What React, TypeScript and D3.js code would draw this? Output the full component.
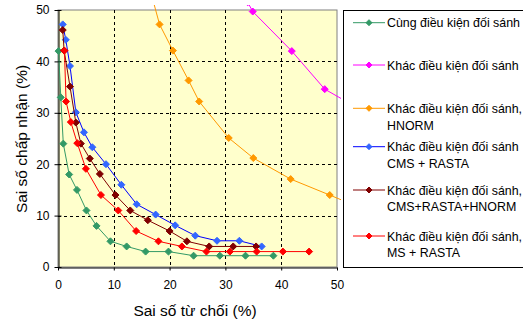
import React, { useRef, useEffect } from "react";
import * as d3 from "d3";

type Pt = [number, number];

const xTicks = [0, 10, 20, 30, 40, 50];
const yTicks = [0, 10, 20, 30, 40, 50];

const sameCond: Pt[] = [
    [0.1, 42], [0.5, 33], [0.95, 24], [2, 18], [3.4, 15], [5.1, 11], [6.9, 8],
    [9.4, 5], [12.3, 4], [15.7, 3], [19.8, 3], [24.3, 2.2], [29, 2.2], [33.6, 2.2], [38.6, 2.2],
];
const diffCond: Pt[] = [[34, 51.5], [34.9, 49.7], [41.9, 42], [47.8, 34.6], [52, 32]];
const diffHnorm: Pt[] = [
    [17, 52], [18.2, 47.2], [20.6, 42.1], [23.4, 36.3], [25.3, 32.2], [30.6, 25.1],
    [35, 21.2], [41.7, 17.1], [48.7, 14], [52, 12.5],
];
const diffCmsRasta: Pt[] = [
    [0.85, 47.2], [1.4, 44.2], [2.15, 39.1], [3.2, 30.1], [4.65, 26.2], [6.15, 23.3],
    [8.6, 20], [11.35, 16], [14.1, 12.2], [17.5, 10.2], [21, 8.1], [24.6, 6.1],
    [28.5, 5.1], [32.5, 5.1], [36.5, 4],
];
const diffCmsRastaHnorm: Pt[] = [
    [0.85, 46.1], [1.1, 42.1], [2.15, 35.1], [3.2, 28.1], [4.1, 24], [5.7, 21.1],
    [7.5, 18.1], [10.3, 14], [12.95, 11], [16.1, 9.1], [20, 7], [23.1, 5],
    [27.1, 4], [31.4, 4], [35.5, 4],
];
const diffMsRasta: Pt[] = [
    [1.15, 42.1], [1.45, 32.2], [2.3, 28.2], [3.45, 24.1], [5, 19.1], [7.7, 14],
    [10.8, 11], [14, 7], [18, 5], [22.2, 4], [26.6, 3], [30.8, 3], [35.6, 3],
    [40.3, 3], [45, 3],
];

const series = [
    { name: ["Cùng điều kiện đối sánh"], color: "#339966", marker: "#339966", data: sameCond },
    { name: ["Khác điều kiện đối sánh"], color: "#FF00FF", marker: "#FF00FF", data: diffCond },
    { name: ["Khác điều kiện đối sánh,", "HNORM"], color: "#FF9900", marker: "#FF9900", data: diffHnorm },
    { name: ["Khác điều kiện đối sánh", "CMS + RASTA"], color: "#0000FF", marker: "#3366FF", data: diffCmsRasta },
    { name: ["Khác điều kiện đối sánh,", "CMS+RASTA+HNORM"], color: "#800000", marker: "#800000", data: diffCmsRastaHnorm },
    { name: ["Khác điều kiện đối sánh,", "MS + RASTA"], color: "#FF0000", marker: "#FF0000", data: diffMsRasta },
];

const diamond = (cx: number, cy: number, r: number) =>
    `M${cx},${cy - r}L${cx + r},${cy}L${cx},${cy + r}L${cx - r},${cy}Z`;

const Chart = () => {
    const ref = useRef<SVGSVGElement | null>(null);

    useEffect(() => {
        const left = 58, right = 337, top = 10, bottom = 267;
        const font = "Arial, 'Liberation Sans', sans-serif";

        const svg = d3.select(ref.current);
        svg.selectAll("*").remove();

        const x = d3.scaleLinear().domain([0, 50]).range([left, right]);
        const y = d3.scaleLinear().domain([0, 50]).range([bottom, top]);

        // plot background
        svg.append("rect")
            .attr("x", left).attr("y", top)
            .attr("width", right - left).attr("height", bottom - top)
            .attr("fill", "#FFFFCC")
            .attr("stroke", "#808080");

        // grid
        const grid = svg.append("g")
            .attr("stroke", "#000")
            .attr("stroke-width", 1)
            .attr("stroke-dasharray", "3,3");
        xTicks.slice(1, -1).forEach((t) => {
            grid.append("line")
                .attr("x1", Math.round(x(t)) + 0.5).attr("x2", Math.round(x(t)) + 0.5)
                .attr("y1", top).attr("y2", bottom);
        });
        yTicks.slice(1, -1).forEach((t) => {
            grid.append("line")
                .attr("x1", left).attr("x2", right)
                .attr("y1", Math.round(y(t)) + 0.5).attr("y2", Math.round(y(t)) + 0.5);
        });

        // axes
        const xAxis = svg.append("g")
            .attr("transform", `translate(0,${bottom + 0.5})`)
            .call(d3.axisBottom(x).tickValues(xTicks).tickSizeInner(3).tickSizeOuter(0).tickPadding(10));
        const yAxis = svg.append("g")
            .attr("transform", `translate(${left + 0.5},0)`)
            .call(d3.axisLeft(y).tickValues(yTicks).tickSizeInner(4).tickSizeOuter(0).tickPadding(5));
        [xAxis, yAxis].forEach((a) => {
            a.select(".domain").attr("stroke", "#000");
            a.selectAll(".tick line").attr("stroke", "#000");
            a.selectAll("text").attr("font-family", font).attr("font-size", 12).attr("fill", "#000");
        });
        yAxis.selectAll(".tick line").attr("x2", -4).attr("x1", 3);

        // clip
        svg.append("defs").append("clipPath").attr("id", "plotclip")
            .append("rect").attr("x", left - 6).attr("y", 5)
            .attr("width", right - left + 10).attr("height", bottom - 5 + 5);

        const line = d3.line<Pt>().x((d) => x(d[0])).y((d) => y(d[1]));
        const plot = svg.append("g").attr("clip-path", "url(#plotclip)");
        series.forEach((s) => {
            plot.append("path")
                .datum(s.data)
                .attr("fill", "none")
                .attr("stroke", s.color)
                .attr("stroke-width", 1)
                .attr("d", line);
            plot.selectAll(null)
                .data(s.data)
                .enter()
                .append("path")
                .attr("d", (d) => diamond(x(d[0]), y(d[1]), 3.5))
                .attr("fill", s.marker)
                .attr("stroke", s.marker);
        });

        // axis titles
        svg.append("text")
            .attr("x", 195).attr("y", 316)
            .attr("text-anchor", "middle")
            .attr("font-family", font).attr("font-size", 15.5)
            .text("Sai số từ chối (%)");
        svg.append("text")
            .attr("transform", `translate(27,139) rotate(-90)`)
            .attr("text-anchor", "middle")
            .attr("font-family", font).attr("font-size", 15.5)
            .text("Sai số chấp nhận (%)");

        // legend
        const lg = svg.append("g");
        lg.append("rect")
            .attr("x", 343.5).attr("y", 10.5)
            .attr("width", 200).attr("height", 257)
            .attr("fill", "#fff").attr("stroke", "#000");
        const rows = [22.7, 65, 108.3, 146.7, 190, 236];
        series.forEach((s, i) => {
            const cy = rows[i];
            lg.append("line")
                .attr("x1", 353).attr("x2", 385)
                .attr("y1", cy).attr("y2", cy)
                .attr("stroke", s.color);
            lg.append("path")
                .attr("d", diamond(369, cy, 3))
                .attr("fill", s.marker).attr("stroke", s.marker);
            const t = lg.append("text")
                .attr("font-family", font).attr("font-size", 12.4)
                .attr("fill", "#000");
            s.name.forEach((n, j) => {
                t.append("tspan")
                    .attr("x", 387).attr("y", cy + 4.5 + j * 16.7)
                    .text(n);
            });
        });
    }, []);

    return (
        <svg
            ref={ref}
            width={523}
            height={322}
            style={{ position: "absolute", left: 0, top: 0, background: "#fff" }}
        />
    );
};

export default function App() {
    return <Chart />;
}
